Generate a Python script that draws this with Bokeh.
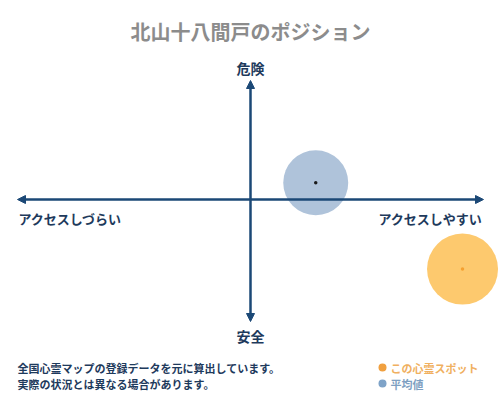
from bokeh.plotting import figure
from bokeh.models import Range1d, Arrow, NormalHead, ColumnDataSource
from bokeh.core.properties import value
from bokeh.embed import file_html
from bokeh.resources import INLINE

# ---- data ----
series_names = ["この心霊スポット", "平均値"]
access_values = [0.91, 0.28]      # + = アクセスしやすい
danger_values = [-0.58, 0.14]     # + = 危険
circle_colors = ["#fdc96e", "#afc3da"]
dot_colors = ["#f5a030", "#1a1a1a"]
circle_sizes = [71, 65]

title_text = "北山十八間戸のポジション"
axis_top = "危険"
axis_bottom = "安全"
axis_left = "アクセスしづらい"
axis_right = "アクセスしやすい"
note_lines = ["全国心霊マップの登録データを元に算出しています。",
              "実際の状況とは異なる場合があります。"]

W, H = 500, 400
OFF = 0
# layout helpers (page pixel -> data coords)
CX, CY, SX, SY = 250.0, 199.0, 233.0, 120.0
def px(x):
    return (x - CX) / SX
def py(y):
    return (CY - y) / SY

p = figure(width=W, height=H, output_backend="svg", toolbar_location=None,
           x_range=Range1d(px(OFF), px(OFF + W)), y_range=Range1d(py(OFF + H), py(OFF)),
           min_border=0, outline_line_color=None, background_fill_color="white")
p.axis.visible = False
p.grid.visible = False

FONT = value("Noto Sans CJK JP")
NAVY = "#1b4876"

# circles
src = ColumnDataSource(dict(x=access_values, y=danger_values, c=circle_colors,
                            d=dot_colors, s=circle_sizes))
p.scatter("x", "y", size="s", fill_color="c", line_color=None, fill_alpha=1.0, source=src)

# axes arrows
p.add_layout(Arrow(x_start=px(17), y_start=0, x_end=px(483), y_end=0,
                   line_color=NAVY, line_width=2.5,
                   start=NormalHead(size=8, fill_color=NAVY, line_color=NAVY),
                   end=NormalHead(size=8, fill_color=NAVY, line_color=NAVY)))
p.add_layout(Arrow(x_start=0, y_start=py(80), x_end=0, y_end=py(321),
                   line_color=NAVY, line_width=2.5,
                   start=NormalHead(size=8, fill_color=NAVY, line_color=NAVY),
                   end=NormalHead(size=8, fill_color=NAVY, line_color=NAVY)))

# center dots
p.scatter("x", "y", size=3.5, fill_color="d", line_color=None, source=src)

# texts
p.text(x=[px(250)], y=[py(31)], text=[title_text], text_font=FONT, text_font_size="20px",
       text_font_style="bold", text_color="#8c8c8c", text_align="center", text_baseline="middle")
p.text(x=[px(250)], y=[py(67)], text=[axis_top], text_font=FONT, text_font_size="14px",
       text_font_style="bold", text_color="#1e3a5c", text_align="center", text_baseline="middle")
p.text(x=[px(250)], y=[py(335)], text=[axis_bottom], text_font=FONT, text_font_size="14px",
       text_font_style="bold", text_color="#1e3a5c", text_align="center", text_baseline="middle")
p.text(x=[px(18)], y=[py(218)], text=[axis_left], text_font=FONT, text_font_size="13px",
       text_font_style="bold", text_color="#1e3a5c", text_align="left", text_baseline="middle")
p.text(x=[px(482)], y=[py(218)], text=[axis_right], text_font=FONT, text_font_size="13px",
       text_font_style="bold", text_color="#1e3a5c", text_align="right", text_baseline="middle")
p.text(x=[px(17), px(17)], y=[py(367), py(383)], text=note_lines, text_font=FONT,
       text_font_size="11px", text_font_style="bold", text_color="#1e3a5c",
       text_align="left", text_baseline="middle")

# legend
p.scatter(x=[px(382), px(382)], y=[py(367), py(383)], size=8,
          fill_color=["#f0a040", "#7ea3c8"], line_color=None)
p.text(x=[px(390), px(390)], y=[py(367), py(383)], text=series_names, text_font=FONT,
       text_font_size="11px", text_font_style="bold", text_color=["#f0b060", "#7e9fc2"],
       text_align="left", text_baseline="middle")

open("out.html", "w").write(file_html(p, INLINE))
